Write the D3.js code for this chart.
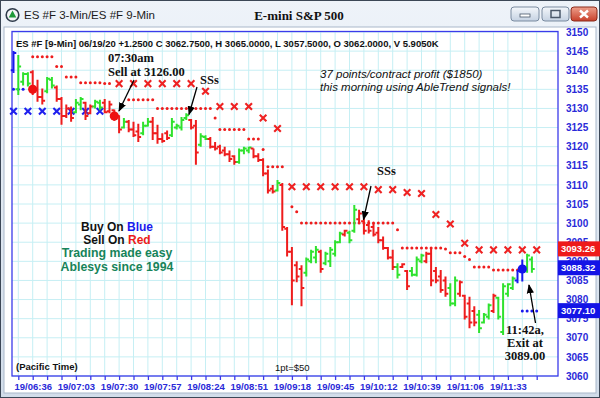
<!DOCTYPE html>
<html><head><meta charset="utf-8">
<script src="https://cdn.jsdelivr.net/npm/d3@7"></script>
<style>html,body{margin:0;padding:0;background:#fff;overflow:hidden}</style>
</head><body>
<svg id="c" width="600" height="398"></svg>
<script>
// ---------- DATA ----------
const timeLabels = ["19/06:36","19/07:03","19/07:30","19/07:57","19/08:24","19/08:51","19/09:18","19/09:45","19/10:12","19/10:39","19/11:06","19/11:33"];
const timeLabelIdx = [4,13,22,31,40,49,58,67,76,85,94,103];
const tickIdx = [1,4,7,10,13,16,19,22,25,28,31,34,37,40,43,46,49,52,55,58,61,64,67,70,73,76,79,82,85,88,91,94,97,100,103,106,109];
const priceTicks = [3150,3145,3140,3135,3130,3125,3120,3115,3110,3105,3100,3095,3090,3085,3080,3075,3070,3065,3060];

// bar colour: b = blue (buy), g = green (up trend), r = red (down trend)
const barColor = "bgggrrrggrrrrggrrggrrrrgrrrggrrrrggggrrggrrrrrrgggrrrrrgrrrrrgggrggggrggrrrrrrrrgrrgggrrrrrggrrrrgggrggggbbgg";
const highs  = [3145,3144,3139.5,3139.5,3140,3137.5,3135.25,3138.25,3138.25,3136,3133,3131,3130.5,3132.5,3133,3131.75,3131,3132.25,3132.25,3132.5,3132,3129.75,3128.25,3127.5,3127,3126.5,3126,3126.5,3127.5,3127.75,3125.75,3123.5,3124.25,3127.5,3126,3127.75,3128.75,3127.25,3127,3123.5,3123,3122.5,3121.25,3120.5,3120,3119,3117.75,3119.5,3120,3120,3119.5,3118.25,3117,3114,3110,3111.25,3110.5,3099,3093.75,3090,3089,3091,3093,3094,3093,3092.5,3093.75,3095.5,3097.75,3098.25,3098,3104.75,3103.5,3101.25,3100.75,3100,3099,3096.5,3093.75,3093,3089.5,3089.5,3087.75,3088.5,3091.25,3092,3092.5,3093.75,3088.5,3087.75,3086,3084.25,3086,3085,3081.25,3080.75,3078.25,3077.25,3076.5,3079,3081.5,3080.75,3084.25,3084.25,3086,3087.75,3090.5,3092,3091.25,3089];
const lows   = [3139.25,3133.5,3136,3135.75,3133.5,3131.75,3131,3134,3135.25,3131.75,3125.75,3127.5,3126.5,3128.75,3129.5,3127,3128.5,3130,3129.5,3128.75,3128.75,3126.75,3123.5,3124.75,3123.75,3122.5,3121.25,3123,3125.25,3121.75,3120.75,3121,3121.75,3122.5,3124.5,3124.25,3127,3124.5,3115.25,3120,3121.75,3119.5,3119,3118,3117.5,3116,3115.25,3115.5,3118,3118.25,3117,3116,3112.25,3107.75,3107.75,3108.25,3098,3091.25,3078.5,3084.5,3078.25,3086,3089.5,3089.5,3087,3089,3088.5,3091.25,3094.75,3096.5,3094.75,3097.5,3100,3097,3097.25,3096.5,3094.75,3093,3090.5,3087.75,3085.5,3088.25,3082.5,3086,3086,3089.5,3089.5,3083.5,3084.25,3081.75,3080.75,3078.25,3078.25,3080.75,3074.75,3072.5,3073,3071.25,3073.75,3074.75,3076.5,3074.75,3070.75,3080.75,3082.5,3084.25,3084.75,3087,3087,3087.25];
const opens  = [3140,3135,3137,3139,3139.5,3135,3133,3134.5,3137.5,3135.5,3132.5,3128,3130,3129,3131,3131.5,3128.75,3130.5,3131.5,3131.5,3129.25,3129.5,3128,3125,3126.5,3124.5,3124,3123.5,3125.5,3126.5,3123.5,3122,3123.5,3123,3125,3125,3127.5,3127,3125.5,3120.5,3122.5,3122,3120,3120,3119,3118,3117.5,3116,3119,3119,3119.5,3117.5,3116.5,3113,3109,3108.5,3110,3098.5,3092.5,3089,3088,3087,3090,3091,3092.5,3089.5,3090,3092,3095,3097,3097.5,3098,3101,3100.5,3099.5,3099,3097.5,3095.5,3093.5,3091,3088.5,3088.5,3087.5,3087.5,3086.5,3090,3090,3092,3087.5,3086,3085,3083,3079,3081.5,3081,3079,3077,3076,3074,3075.5,3077,3080.5,3071.5,3081.5,3083,3085,3087.5,3088.5,3090.5,3088];
const closes = [3144.5,3141,3139,3136.5,3135,3133,3132,3137.75,3136,3132.5,3128,3130,3127.5,3131.5,3132.5,3128,3130.5,3131.75,3130.25,3129,3131,3127.5,3124.5,3126.5,3124.5,3123,3122.5,3125.5,3126.5,3123.5,3122,3121.5,3122.25,3126.5,3125.5,3127,3128.25,3125,3118.5,3122.75,3122,3120,3119.5,3118.5,3118,3116.75,3116,3119,3119.5,3119.75,3117.5,3116.5,3113,3108.5,3108.25,3110.5,3099,3092.5,3085,3086,3083,3090.5,3092.5,3093,3088,3092,3093,3095,3097.25,3098,3095.5,3103.5,3102.5,3098,3098,3097,3095.5,3093.5,3091,3088.5,3086.5,3089.25,3083.5,3086.5,3090.5,3091.5,3092,3085,3085,3082.5,3081.5,3079,3085,3084.5,3075.5,3074,3074,3072.5,3076,3078.5,3081,3075.5,3083.5,3084,3085.5,3087.5,3088.75,3091.5,3088,3088.75];

// 3-min trailing stop dots (red), one per bar, null = none
const stopDots = [null,null,null,null,3143.5,3143.5,3143.5,3143.5,3143.5,3141,3141,3138.25,3138.25,3138.25,3136.75,3136.75,3136.75,3136.75,3136.75,3136.5,3136.5,null,null,null,3132.25,3132.25,3132.25,3132.25,3132.25,3132.25,3130,3130,3130,3130,3130,3130,3130,3130,3130,3130,3130,3130,3127.5,3124.5,3124.5,3124.5,3124.5,3124.5,3124.5,3122,3122,3122,3119.25,3114.75,3114.75,3114.75,3114.75,null,3104.25,3103,3100,3100,3100,3100,3100,3100,3100,3100,3100,3100,3100,3100,3100,3100,3100,3100,3100,3100,3100,3100,3098.25,3093.5,3093.5,3093.5,3093.5,3093.5,3093.5,3093.5,3093.5,3093.5,3093.25,3092.25,3092.25,3092.25,3091.25,3090.5,3088.5,3088.5,3088.5,3088.5,3087.75,3087.75,3087.75,3087.75,3087.75,3087.75,null,null,null,null];
// 9-min stop crosses (red)
const redXIdx   = [22,25,28,31,34,37,40,43,46,49,52,55,58,61,64,67,70,73,76,79,82,85,88,91,94,97,100,103,106,109];
const redXPrice = [3136.5,3136.5,3136.5,3136.5,3136.5,3136.5,3134.5,3130.5,3130.5,3130.5,3127.5,3124.75,3109.5,3109.5,3109.5,3109.5,3109.5,3109.5,3108.75,3108.75,3108,3107.75,3102.25,3099.75,3094.75,3093,3093,3093,3093,3093];
// blue stop crosses / dots
const blueXIdx   = [0,3,6,9,12,15,18];
const blueXPrice = [3129.25,3129.25,3129.25,3129.25,3129.25,3129.25,3129.25];
const blueDotIdx   = [0,1,2,106,107,108,109];
const blueDotPrice = [3135,3135,3135,3077,3077,3077,3077];
// big signal dots
const sellIdx = [4,21], sellPrice = [3135,3128];
const buyIdx = [106], buyPrice = [3088];
// last-value boxes on the price axis
const boxValues = [3093.26,3088.32,3077.10];
const boxColors = ["#ee1a1a","#1414e6","#1414e6"];

// ---------- DRAW ----------
const svg = d3.select("#c");
const W = 600, H = 398;
const plot = {l:12, r:558, t:31.5, b:376};
const x = d3.scaleLinear().domain([0,109]).range([13.5, 13.5+4.8*109]);
const y = d3.scaleLinear().domain([3060,3150]).range([376,32]);
const colMap = {r:"#ee1c1c", g:"#2ee22e", b:"#1818ee"};
const SANS = "'Liberation Sans', Arial, sans-serif";
const SERIF = "'Liberation Serif', 'Times New Roman', serif";

const defs = svg.append("defs");
const g1 = defs.append("linearGradient").attr("id","tb").attr("x1",0).attr("y1",0).attr("x2",0).attr("y2",1);
g1.append("stop").attr("offset","0%").attr("stop-color","#eef3f9");
g1.append("stop").attr("offset","100%").attr("stop-color","#d2ddea");
const g2 = defs.append("linearGradient").attr("id","btn").attr("x1",0).attr("y1",0).attr("x2",0).attr("y2",1);
g2.append("stop").attr("offset","0%").attr("stop-color","#f4f7fb");
g2.append("stop").attr("offset","100%").attr("stop-color","#c5d2e2");
const g3 = defs.append("linearGradient").attr("id","cls").attr("x1",0).attr("y1",0).attr("x2",0).attr("y2",1);
g3.append("stop").attr("offset","0%").attr("stop-color","#eea08c");
g3.append("stop").attr("offset","100%").attr("stop-color","#c8402a");
defs.append("marker").attr("id","ah").attr("viewBox","0 0 10 10").attr("refX",9).attr("refY",5)
  .attr("markerWidth",7).attr("markerHeight",7).attr("orient","auto-start-reverse")
  .append("path").attr("d","M0,1 L10,5 L0,9 z").attr("fill","#000");

// window frame
svg.append("rect").attr("x",0).attr("y",0).attr("width",W).attr("height",H).attr("fill","#c9d5e3");
svg.append("rect").attr("x",0.5).attr("y",0.5).attr("width",W-1).attr("height",H-1).attr("fill","url(#tb)").attr("stroke","#3c4756");
svg.append("rect").attr("x",4).attr("y",27).attr("width",592).attr("height",366).attr("fill","#fff").attr("stroke","#a9b8ca");

// title bar
svg.append("circle").attr("cx",12.5).attr("cy",15).attr("r",6.3).attr("fill","#f4f6f8").attr("stroke","#2d3a4a").attr("stroke-width",1.6);
svg.append("path").attr("d","M12.5,10.5 L16.3,17.5 L8.7,17.5 Z").attr("fill","#1f9a3a");
svg.append("text").attr("x",24).attr("y",19).attr("font-family",SANS).attr("font-size",11.5).attr("fill","#1c1c1c").text("ES #F 3-Min/ES #F 9-Min");
svg.append("text").attr("x",299).attr("y",19.5).attr("text-anchor","middle").attr("font-family",SERIF).attr("font-weight","bold").attr("font-size",13).attr("fill","#111").text("E-mini S&P 500");
// window buttons
svg.append("rect").attr("x",511).attr("y",7).attr("width",28).attr("height",14).attr("rx",3).attr("fill","url(#btn)").attr("stroke","#7a8ba0");
svg.append("rect").attr("x",520).attr("y",14).attr("width",10).attr("height",3).attr("fill","#fff").attr("stroke","#4a586a").attr("stroke-width",0.8);
svg.append("rect").attr("x",542).attr("y",7).attr("width",27).attr("height",14).attr("rx",3).attr("fill","url(#btn)").attr("stroke","#7a8ba0");
svg.append("rect").attr("x",551).attr("y",10.5).attr("width",9).attr("height",7).attr("fill","none").attr("stroke","#4a586a").attr("stroke-width",1.5);
svg.append("rect").attr("x",571).attr("y",7).attr("width",26).attr("height",14).attr("rx",3).attr("fill","url(#cls)").attr("stroke","#8a2a1a");
svg.append("path").attr("d","M580,10.5 L588,17.5 M588,10.5 L580,17.5").attr("stroke","#fff").attr("stroke-width",2.4);

// grid
const grid = svg.append("g");
grid.selectAll("line.h").data(priceTicks).join("line")
  .attr("x1",plot.l).attr("x2",plot.r).attr("y1",d=>y(d)).attr("y2",d=>y(d))
  .attr("stroke","#c6eff4").attr("stroke-width",1);
grid.selectAll("line.v").data(tickIdx).join("line")
  .attr("x1",d=>x(d)).attr("x2",d=>x(d)).attr("y1",plot.t).attr("y2",plot.b)
  .attr("stroke","#c6eff4").attr("stroke-width",1);

// frame
svg.append("rect").attr("x",plot.l).attr("y",plot.t).attr("width",plot.r-plot.l).attr("height",plot.b-plot.t)
  .attr("fill","none").attr("stroke","#3b3bea").attr("stroke-width",1.3);

// axes
const xAx = svg.append("g").attr("transform",`translate(0,${plot.b})`)
  .call(d3.axisBottom(x).tickValues(tickIdx).tickSize(4).tickPadding(3)
    .tickFormat(d => { const k = timeLabelIdx.indexOf(d); return k>=0 ? timeLabels[k] : ""; }));
xAx.select(".domain").remove();
xAx.selectAll("line").attr("stroke","#3b3bea").attr("stroke-width",1.3);
xAx.selectAll("text").attr("font-family",SANS).attr("font-weight","bold").attr("font-size",9.5).attr("fill","#2a2ad8");

const yAx = svg.append("g").attr("transform",`translate(${plot.r},0)`)
  .call(d3.axisRight(y).tickValues(priceTicks).tickSize(0).tickPadding(8).tickFormat(d3.format("d")));
yAx.select(".domain").remove();
yAx.selectAll("text").attr("font-family",SANS).attr("font-weight","bold").attr("font-size",10).attr("fill","#2a2ad8");

// header
svg.append("text").attr("x",16).attr("y",46.5).attr("font-family",SANS).attr("font-weight","bold").attr("font-size",9.5).attr("fill","#111")
  .text("ES #F [9-Min] 06/19/20  +1.2500 C 3062.7500, H 3065.0000, L 3057.5000, O 3062.0000, V 5.9050K");

// markers layer
const mk = svg.append("g");
const sd = stopDots.map((p,i)=>({i,p})).filter(d=>d.p!==null);
mk.selectAll("circle.sd").data(sd).join("circle")
  .attr("cx",d=>x(d.i)).attr("cy",d=>y(d.p)).attr("r",1.5).attr("fill","#ee1c1c");
mk.selectAll("circle.bd").data(blueDotIdx.map((i,k)=>({i,p:blueDotPrice[k]}))).join("circle")
  .attr("cx",d=>x(d.i)).attr("cy",d=>y(d.p)).attr("r",1.5).attr("fill","#1818ee");
function cross(d){ const cx=x(d.i), cy=y(d.p), s=3.3; return `M${cx-s},${cy-s}L${cx+s},${cy+s}M${cx-s},${cy+s}L${cx+s},${cy-s}`; }
mk.selectAll("path.rx").data(redXIdx.map((i,k)=>({i,p:redXPrice[k]}))).join("path")
  .attr("d",cross).attr("stroke","#ee2222").attr("stroke-width",2.1).attr("fill","none");
mk.selectAll("path.bx").data(blueXIdx.map((i,k)=>({i,p:blueXPrice[k]}))).join("path")
  .attr("d",cross).attr("stroke","#2020ee").attr("stroke-width",2.1).attr("fill","none");

// OHLC bars
const bars = highs.map((h,i)=>({i,h,l:lows[i],o:opens[i],c:closes[i],col:barColor[i]}));
svg.append("g").selectAll("path").data(bars).join("path")
  .attr("d",d=>{const cx=x(d.i); return `M${cx},${y(d.h)}V${y(d.l)}M${cx-2.8},${y(d.o)}H${cx}M${cx},${y(d.c)}H${cx+2.8}`;})
  .attr("stroke",d=>colMap[d.col]).attr("stroke-width",2).attr("fill","none");

// big signal dots
svg.append("g").selectAll("circle").data(sellIdx.map((i,k)=>({i,p:sellPrice[k]}))).join("circle")
  .attr("cx",d=>x(d.i)).attr("cy",d=>y(d.p)).attr("r",4.6).attr("fill","#ee1111");
svg.append("g").selectAll("circle").data(buyIdx.map((i,k)=>({i,p:buyPrice[k]}))).join("circle")
  .attr("cx",d=>x(d.i)).attr("cy",d=>y(d.p)).attr("r",4.6).attr("fill","#1414ee");

// annotations
function txt(xx,yy,s,opt={}){
  return svg.append("text").attr("x",xx).attr("y",yy).attr("font-family",opt.f||SANS)
    .attr("font-size",opt.sz||12).attr("font-weight",opt.w||"normal").attr("font-style",opt.st||"normal")
    .attr("text-anchor",opt.a||"start").attr("fill",opt.c||"#111").text(s);
}
txt(108,62,"07:30am",{f:SERIF,w:"bold",sz:12.5});
txt(108,76,"Sell at 3126.00",{f:SERIF,w:"bold",sz:12.5});
txt(200,84,"SSs",{f:SERIF,w:"bold",sz:12.5});
txt(377,175,"SSs",{f:SERIF,w:"bold",sz:12.5});
txt(320,77.5,"37 points/contract profit ($1850)",{st:"italic",sz:11.5});
txt(320,90.5,"this morning using AbleTrend signals!",{st:"italic",sz:11.5});
txt(525,334,"11:42a,",{f:SERIF,w:"bold",sz:12.5,a:"middle"});
txt(525,347,"Exit at",{f:SERIF,w:"bold",sz:12.5,a:"middle"});
txt(525,360,"3089.00",{f:SERIF,w:"bold",sz:12.5,a:"middle"});
txt(16,370,"(Pacific Time)",{w:"bold",sz:9.5});
txt(275,371,"1pt=$50",{sz:9.5});

const t1 = txt(117,231,"Buy On ",{w:"bold",a:"middle"}); t1.append("tspan").attr("fill","#1a1aee").text("Blue");
const t2 = txt(117,244,"Sell On ",{w:"bold",a:"middle"}); t2.append("tspan").attr("fill","#ee1a1a").text("Red");
txt(117,257,"Trading made easy",{w:"bold",a:"middle",c:"#17845a",sz:12.3});
txt(117,271,"Ablesys since 1994",{w:"bold",a:"middle",c:"#17845a",sz:12.3});

// arrows
const arrows = [[134,80,119,111],[197,87,189,114.5],[371,186,363.5,219.5],[535.5,323,529,285]];
svg.append("g").selectAll("line").data(arrows).join("line")
  .attr("x1",d=>d[0]).attr("y1",d=>d[1]).attr("x2",d=>d[2]).attr("y2",d=>d[3])
  .attr("stroke","#000").attr("stroke-width",1.3).attr("marker-end","url(#ah)");

// value boxes on the price axis (stacked so they do not overlap)
let prevBottom = -Infinity;
const bg = svg.append("g");
boxValues.forEach((v,k)=>{
  let top = y(v)-7.5;
  if (top < prevBottom + 2) {
    bg.append("rect").attr("x",558).attr("y",prevBottom).attr("width",42).attr("height",1).attr("fill","#f0e020");
    bg.append("rect").attr("x",558).attr("y",prevBottom+1).attr("width",42).attr("height",1).attr("fill","#22cc22");
    top = prevBottom + 2;
  }
  bg.append("rect").attr("x",558).attr("y",top).attr("width",42).attr("height",15).attr("fill",boxColors[k]);
  bg.append("text").attr("x",561).attr("y",top+11).attr("font-family",SANS).attr("font-weight","bold")
    .attr("font-size",9.5).attr("fill","#fff").text(v.toFixed(2));
  prevBottom = top + 15;
});
</script>
</body></html>
